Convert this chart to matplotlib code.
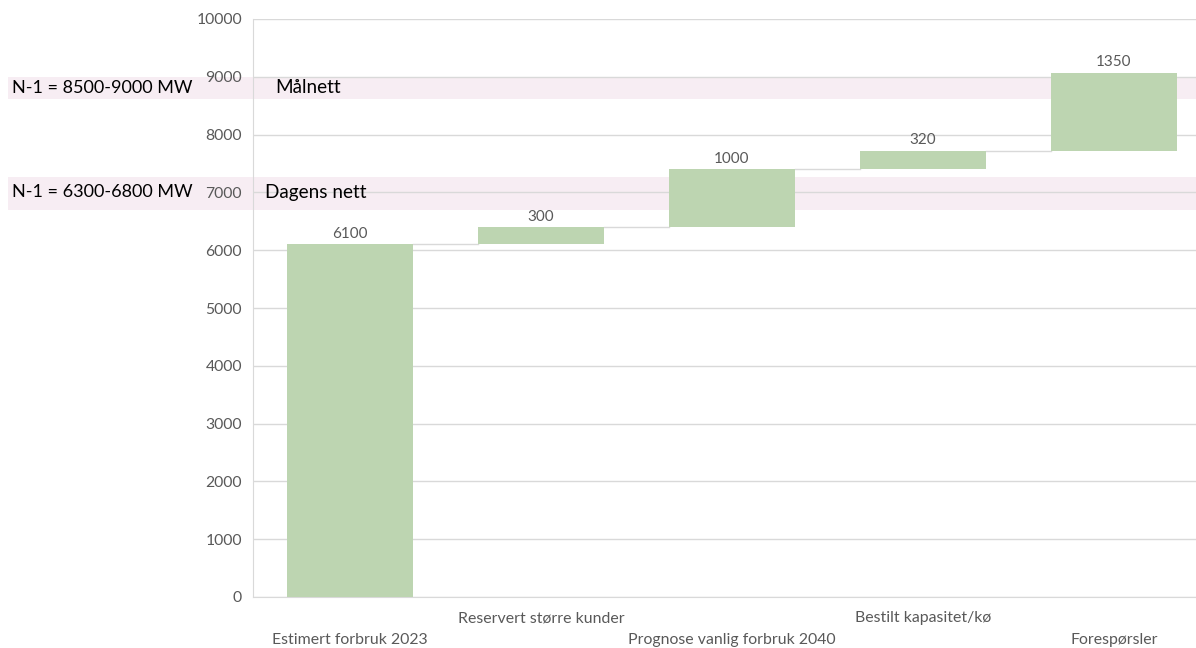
import matplotlib
matplotlib.use("Agg")
import matplotlib.pyplot as plt
from matplotlib.patches import Rectangle
from matplotlib.transforms import blended_transform_factory

# Waterfall data (MW)
categories = ["Estimert forbruk 2023", "Reservert større kunder",
              "Prognose vanlig forbruk 2040", "Bestilt kapasitet/kø",
              "Forespørsler"]
increments = [6100, 300, 1000, 320, 1350]

# Capacity bands (MW) and their labels
band_ranges = [(8620, 9000), (6700, 7260)]
band_names = ["Målnett", "Dagens nett"]
band_notes = ["N-1 = 8500-9000 MW", "N-1 = 6300-6800 MW"]

yticks = list(range(0, 10001, 1000))

plt.rcParams["font.family"] = ["Lato", "DejaVu Sans"]

BAR = "#bdd5b1"
GRID = "#d9d9d9"
TXT = "#595959"
BAND = "#f7edf3"

fig = plt.figure(figsize=(11.96, 6.48), dpi=100)
ax = fig.add_axes([253 / 1196, 51 / 648, 943 / 1196, 578 / 648])

x = list(range(len(categories)))
bottoms = []
run = 0
for v in increments:
    bottoms.append(run)
    run += v

width = 0.66
ax.set_xlim(-0.508, 4.43)
ax.set_ylim(0, 10000)

# Horizontal bands spanning into the left margin
trans = blended_transform_factory(fig.transFigure, ax.transData)
for (lo, hi) in band_ranges:
    ax.add_patch(Rectangle((8 / 1196, lo), 1 - 8 / 1196, hi - lo,
                           transform=trans, facecolor=BAND, edgecolor="none",
                           clip_on=False, zorder=0))

ax.set_yticks(yticks)
ax.grid(axis="y", color=GRID, linewidth=1, zorder=1)
ax.set_axisbelow(True)

ax.bar(x, increments, bottom=bottoms, width=width, color=BAR, zorder=3)

# Connector lines between consecutive bars
for i in range(len(x) - 1):
    level = bottoms[i] + increments[i]
    ax.plot([x[i] + width / 2, x[i + 1] - width / 2], [level, level],
            color=GRID, linewidth=1, zorder=2)

# Value labels
for xi, b, v in zip(x, bottoms, increments):
    ax.annotate(f"{v}", (xi, b + v), xytext=(0, 2.5), textcoords="offset points",
                ha="center", va="bottom", color=TXT, fontsize=11)

# Staggered category labels
for i, (xi, name) in enumerate(zip(x, categories)):
    off = -31 if i % 2 == 0 else -15.2
    ax.annotate(name, (xi, 0), xytext=(0, off), textcoords="offset points",
                ha="center", va="center", color=TXT, fontsize=11.4,
                annotation_clip=False)
ax.set_xticks([])

for s in ["top", "right"]:
    ax.spines[s].set_visible(False)
ax.spines["left"].set_color(GRID)
ax.spines["bottom"].set_color(GRID)
ax.tick_params(axis="y", length=0, labelcolor=TXT, labelsize=11.3, pad=8)

# Band annotations
for (lo, hi), name, note in zip(band_ranges, band_names, band_notes):
    mid = (lo + hi) / 2 if name == "Målnett" else 7000
    xs = 275 / 1196 if name == "Målnett" else 265 / 1196
    ax.text(xs, mid, name, transform=trans, ha="left", va="center",
            fontsize=13.6, color="black")
    ax.text(12 / 1196, mid, note, transform=trans, ha="left", va="center",
            fontsize=13, color="black")

fig.savefig("out.png", dpi=100)
